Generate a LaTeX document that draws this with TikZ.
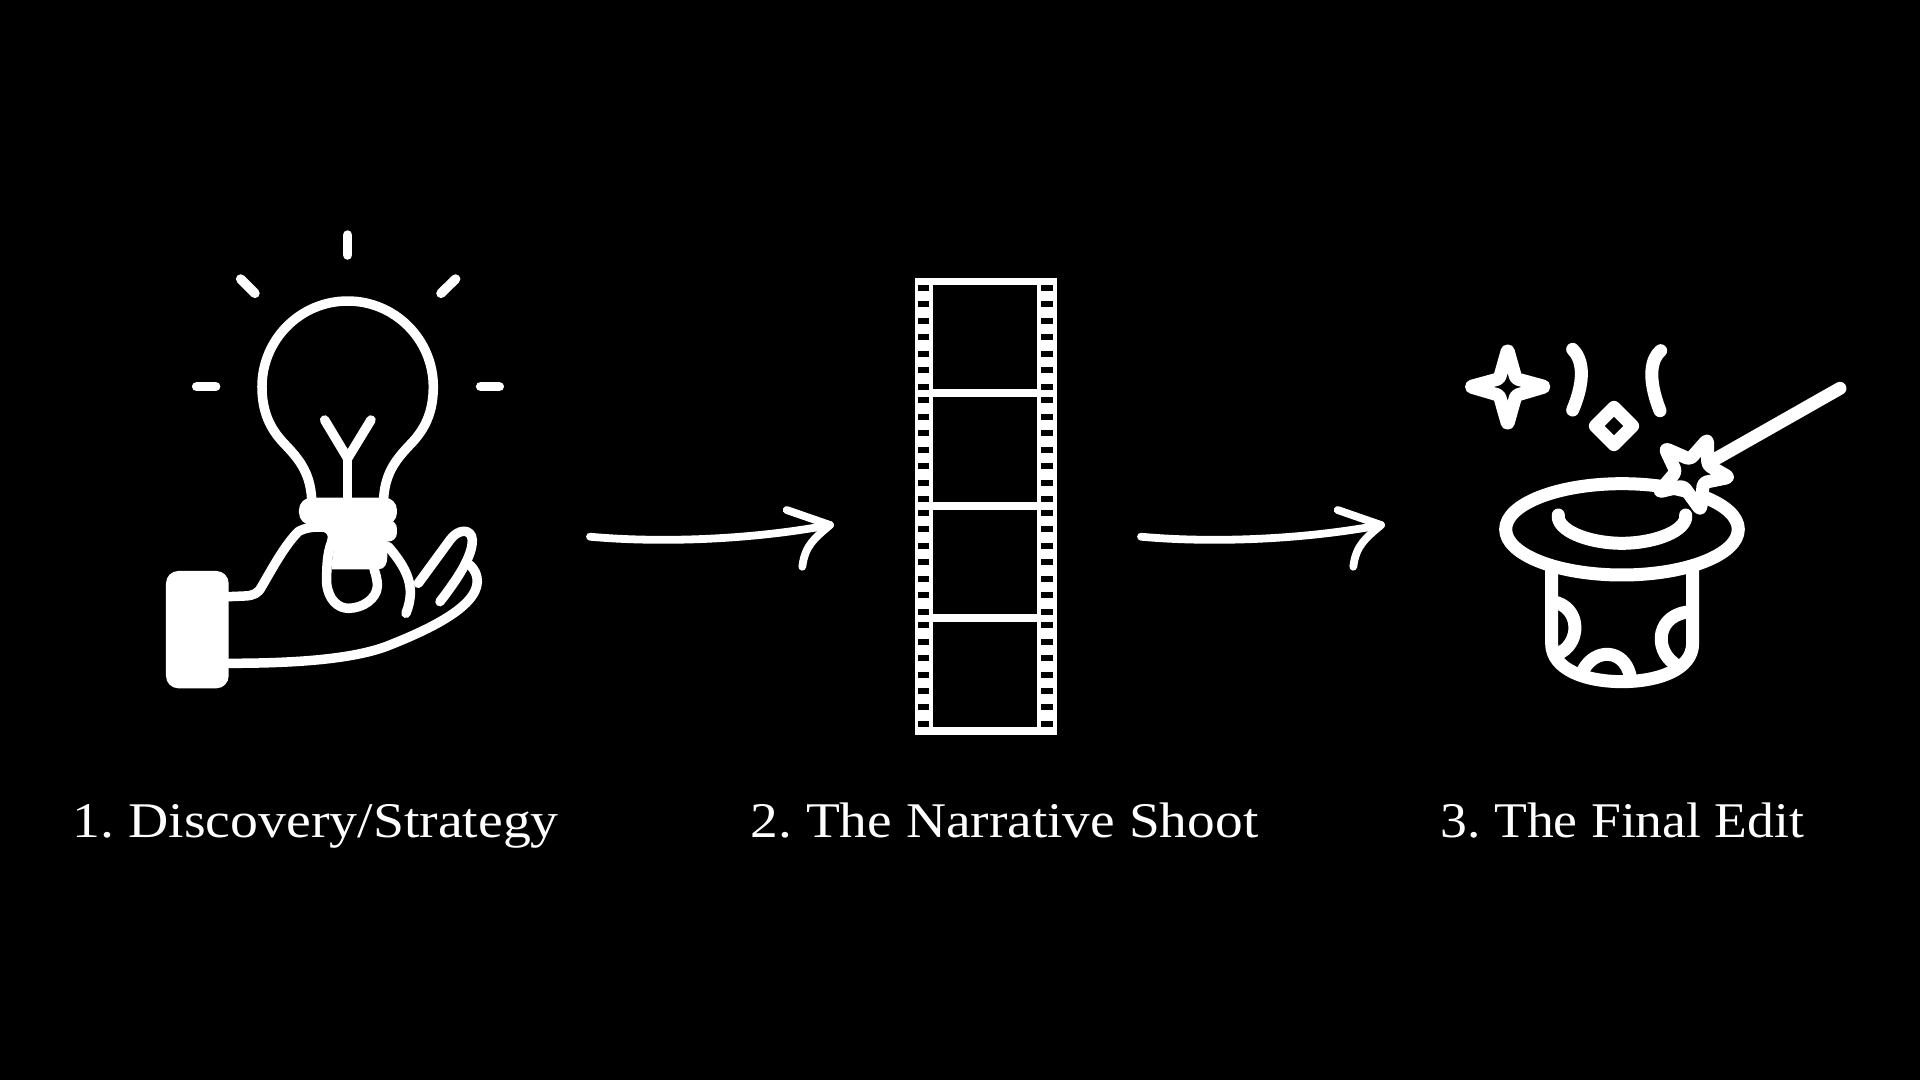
\documentclass[tikz,border=0pt]{standalone}
\usepackage{fontspec}
\setmainfont{Liberation Serif}
\usetikzlibrary{positioning}

\begin{document}
\begin{tikzpicture}[
  x=0.1mm, y=-0.1mm,
  ink/.style={draw=white, line cap=round, line join=round},
  thin ink/.style={ink, line width=0.95mm},
  thick ink/.style={ink, line width=1.3mm},
  arrowline/.style={ink, line width=0.78mm},
  lab/.style={anchor=base west, inner sep=0pt, text=white, font=\fontsize{14.2}{16}\selectfont\frenchspacing}]

\useasboundingbox (0,0) rectangle (1920,1080);
\fill[black] (0,0) rectangle (1920,1080);

% bulb and hand, in the 3x grid of the crop
\begin{scope}[shift={(150,210)}, scale=0.3333]
  \draw[thin ink] (593,75) -- (593,135);
  \draw[thin ink] (272,207) -- (315,250);
  \draw[thin ink] (917,207) -- (873,250);
  \draw[thin ink] (140,530) -- (197,530);
  \draw[thin ink] (992,530) -- (1048,530);
  \draw[thin ink] (485,865) .. controls (480,785) and (445,745) .. (400,698)
    .. controls (360,655) and (336,605) .. (336,530)
    .. controls (336,390) and (450,273) .. (593,273)
    .. controls (736,273) and (850,390) .. (850,530)
    .. controls (850,605) and (826,655) .. (786,698)
    .. controls (741,745) and (706,785) .. (701,865);
  \draw[thin ink] (524,630) -- (593,745) -- (663,630);
  \draw[thin ink] (593,745) -- (593,865);
  % screw base
  \fill[white, rounded corners=3.5pt] (447,863) rectangle (741,945);
  \fill[white, rounded corners=2.5pt] (600,930) rectangle (741,995);
  \fill[white] (470,935) -- (712,940) -- (712,1040) .. controls (712,1060) and (705,1078) .. (685,1078)
    -- (545,1078) .. controls (545,1040) and (555,1010) .. (555,985) -- (530,945) -- cycle;
  \draw[thin ink] (236,1160) -- (285,1158) .. controls (310,1157) and (325,1150) .. (335,1130)
    .. controls (370,1070) and (405,1005) .. (445,965)
    .. controls (470,950) and (505,950) .. (525,952)
    .. controls (545,958) and (555,975) .. (540,1010)
    .. controls (530,1045) and (530,1085) .. (530,1120)
    .. controls (535,1170) and (565,1195) .. (595,1195)
    .. controls (640,1195) and (680,1165) .. (682,1130)
    .. controls (683,1105) and (675,1090) .. (672,1075);
  \draw[thin ink] (715,1010) .. controls (770,1075) and (800,1130) .. (768,1210);
  \draw[thin ink] (805,1120) -- (900,990) .. controls (925,955) and (965,955) .. (967,990)
    .. controls (968,1040) and (920,1110) .. (870,1175);
  \draw[thin ink] (236,1360) .. controls (420,1360) and (610,1350) .. (720,1305)
    .. controls (820,1265) and (980,1195) .. (982,1115)
    .. controls (982,1095) and (975,1080) .. (960,1065);
  \fill[white, rounded corners=3.5pt] (48,1083) rectangle (236,1435);
\end{scope}

% film strip
\node[draw=none, fill=white, minimum width=14.17mm, minimum height=45.7mm, inner sep=0pt, anchor=north west] (filmstrip) at (914.5,277.5) {};
\foreach \f in {0,1,2,3}{
  \fill[black] (933.3,285+\f*112.4) rectangle (1037.3,389.3+\f*112.4);
  \foreach \h in {0,...,6}{
    \fill[black] (917.5,285+\f*112.4+\h*16.45) rectangle (929.3,291+\f*112.4+\h*16.45);
    \fill[black] (1041,285+\f*112.4+\h*16.45) rectangle (1053,291+\f*112.4+\h*16.45);}}

% hat, wand and sparkles
\begin{scope}[shift={(1440,320)}, scale=0.3333]
  \draw[thick ink] (335,745) -- (335,970) .. controls (335,1050) and (440,1085) .. (546,1085)
    .. controls (652,1085) and (758,1050) .. (758,970) -- (758,745);
  \draw[thick ink] (338,845) .. controls (425,860) and (425,975) .. (350,1003);
  \draw[thick ink] (755,875) .. controls (650,880) and (640,985) .. (702,1030);
  \draw[thick ink] (430,1050) .. controls (465,985) and (550,985) .. (570,1065);
  \draw[thick ink] (546,628) ellipse (349 and 137);
  \draw[thick ink] (355,585) -- (355,595) .. controls (365,640) and (460,670) .. (546,670)
    .. controls (632,670) and (727,640) .. (737,595) -- (737,585);
  \draw[thick ink] (1200,205) -- (830,415);
  \draw[thick ink, fill=black, rounded corners=1pt] (675,385) -- (750,418) -- (803,358) -- (803,435)
    -- (868,472) -- (790,488) -- (782,570) -- (730,498) -- (656,516) -- (708,455) -- cycle;
  \draw[thick ink, rounded corners=0.5pt] (203,88) -- (178,176) -- (90,200) -- (178,226) -- (203,314)
    -- (228,226) -- (316,200) -- (228,176) -- cycle;
  \draw[thick ink] (522,262) -- (578,318) -- (522,374) -- (466,318) -- cycle;
  \draw[thick ink] (398,88) .. controls (425,115) and (440,170) .. (398,270);
  \draw[thick ink] (662,92) .. controls (635,115) and (620,170) .. (660,272);
\end{scope}

% arrows
\foreach \n/\d in {A/0, B/551}{
  \coordinate (tail\n) at (590+\d,536.7);
  \coordinate (tip\n) at (830+\d,525);
  \coordinate (barb\n) at (786.7+\d,510);
  \coordinate (hook\n) at (802.3+\d,566.7);
  \draw[arrowline] (tail\n) .. controls (660+\d,543) and (750+\d,540) .. (tip\n);
  \draw[arrowline] (barb\n) -- (tip\n) .. controls (815+\d,538) and (805+\d,545) .. (hook\n);}

\node[lab] (labDiscovery) at (72,837) {\scalebox{1.117}[1]{1. Discovery/Strategy}};
\node[lab] (labShoot) at (750,837) {\scalebox{1.11}[1]{2. The Narrative Shoot}};
\node[lab] (labEdit) at (1440,837) {\scalebox{1.075}[1]{3. The Final Edit}};
\end{tikzpicture}
\end{document}
